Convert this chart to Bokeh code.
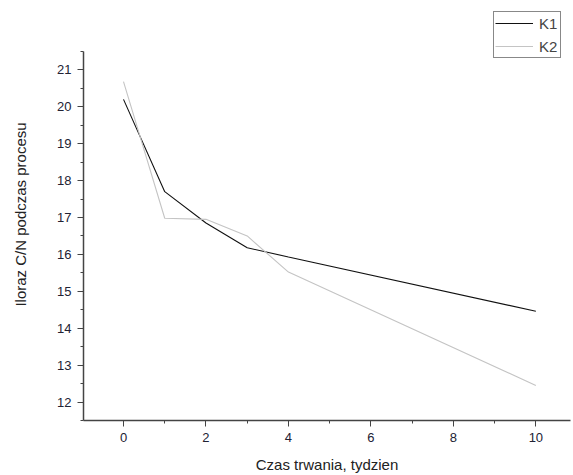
from bokeh.plotting import figure
from bokeh.models import Legend, LegendItem, SingleIntervalTicker, Range1d
from bokeh.embed import file_html
from bokeh.resources import INLINE

weeks_k1 = [0, 1, 2, 3, 4, 10]
k1 = [20.2, 17.7, 16.85, 16.18, 15.93, 14.46]
weeks_k2 = [0, 1, 2, 3, 4, 10]
k2 = [20.68, 16.98, 16.95, 16.5, 15.52, 12.45]

FONT = "Liberation Sans"

p = figure(width=573, height=475, output_backend="svg", toolbar_location=None,
           x_range=Range1d(-0.97, 10.84), y_range=Range1d(11.5, 22.662),
           min_border_left=83, min_border_top=8, min_border_right=3, min_border_bottom=54)
p.outline_line_color = None
p.xgrid.visible = False
p.ygrid.visible = False

r1 = p.line(weeks_k1, k1, line_color="#111111", line_width=1.1)
r2 = p.line(weeks_k2, k2, line_color="#c4c4c4", line_width=1.1)

for ax in (p.xaxis[0], p.yaxis[0]):
    ax.axis_line_color = "#444444"
    ax.axis_line_width = 1.5
    ax.major_tick_line_color = "#444444"
    ax.minor_tick_line_color = "#444444"
    ax.major_tick_out = 6
    ax.major_tick_in = 0
    ax.minor_tick_out = 3
    ax.minor_tick_in = 0
    ax.major_label_text_font = FONT
    ax.major_label_text_font_size = "13px"
    ax.major_label_text_color = "#222233"
    ax.axis_label_text_font = FONT
    ax.axis_label_text_font_size = "15px"
    ax.axis_label_text_font_style = "normal"
    ax.axis_label_text_color = "#222222"

p.yaxis.bounds = (11.5, 21.5)
p.xaxis.ticker = SingleIntervalTicker(interval=2, num_minor_ticks=2)
p.yaxis.ticker = SingleIntervalTicker(interval=1, num_minor_ticks=2)
p.xaxis.axis_label = "Czas trwania, tydzien"
p.yaxis.axis_label = "Iloraz C/N podczas procesu"
p.xaxis.major_label_standoff = 6
p.yaxis.major_label_standoff = 6
p.xaxis.axis_label_standoff = 11
p.yaxis.axis_label_standoff = 25

legend = Legend(items=[LegendItem(label="K1", renderers=[r1]),
                       LegendItem(label="K2", renderers=[r2])],
                location=(410, 362))
legend.border_line_color = "#111111"
legend.border_line_width = 1
legend.background_fill_alpha = 1
legend.label_text_font = FONT
legend.label_text_font_size = "15px"
legend.glyph_width = 38
legend.glyph_height = 20
legend.label_height = 20
legend.spacing = 3
legend.padding = 1
legend.margin = 0
legend.label_standoff = 6
p.add_layout(legend, "center")

open("out.html", "w").write(file_html(p, INLINE))
